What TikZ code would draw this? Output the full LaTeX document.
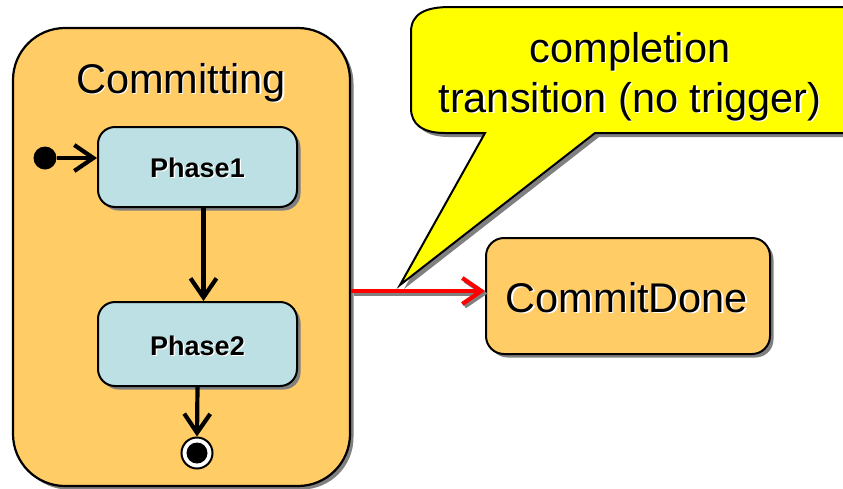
\documentclass[tikz,border=0pt]{standalone}
\usepackage{fontspec}
\setmainfont{Liberation Sans}
\usetikzlibrary{arrows.meta,shadows}
\definecolor{stateorange}{RGB}{255,204,102}
\definecolor{substate}{RGB}{188,224,227}
\definecolor{noteyellow}{RGB}{255,255,0}
\definecolor{transred}{RGB}{255,0,0}
% text with a thin white offset copy underneath
\newcommand{\glowtext}[1]{\leavevmode\rlap{\kern1.3pt\raisebox{-1.3pt}{\color{white}#1}}#1}

\begin{document}
\begin{tikzpicture}[x=1pt,y=-1pt,
  shade/.style={drop shadow={shadow xshift=3.5pt,shadow yshift=-3.5pt,fill=black!50,opacity=1}},
  bigstate/.style={draw=black,line width=2.2pt,fill=stateorange,rounded corners=52pt,
    minimum width=337pt,minimum height=458pt,inner sep=0pt,shade},
  substatebox/.style={draw=black,line width=2pt,fill=substate,rounded corners=17pt,
    minimum width=199pt,inner sep=0pt,shade},
  substatetext/.style={font=\fontsize{27}{30}\selectfont\bfseries,anchor=base,inner sep=0pt},
  leafstate/.style={draw=black,line width=2pt,fill=stateorange,rounded corners=18pt,
    minimum width=284pt,minimum height=116pt,inner sep=0pt,shade},
  bigtext/.style={font=\fontsize{41.5}{50}\selectfont,inner sep=0pt},
  flow/.style={line width=4.2pt,-{Straight Barb[length=19pt,width=26pt]}},
  noteshape/.style={draw=black,line width=2pt,fill=noteyellow,
    drop shadow={shadow xshift=4pt,shadow yshift=-4pt,fill=black!50,opacity=1}}]

\clip (0,0) rectangle (843,488);
\fill[white] (0,0) rectangle (843,488);

% composite state and its title
\node[bigstate] (committing) at (181.5,257) {};
\node[bigtext,anchor=base] (ctitle) at (181,93) {\glowtext{Committing}};

% inner states
\node[substatebox,minimum height=80pt] (p1) at (197.5,167) {};
\node[substatetext] (p1t) at (197.5,177.5) {\glowtext{Phase1}};
\node[substatebox,minimum height=84pt] (p2) at (197.5,344) {};
\node[substatetext] (p2t) at (197.5,355) {\glowtext{Phase2}};

% pseudo states
\node[circle,fill=black,minimum size=23pt,inner sep=0pt] (init) at (45,158) {};
\node[circle,draw=black,line width=2pt,fill=white,minimum size=31pt,inner sep=0pt] (fin) at (197,453) {};
\node[circle,fill=black,minimum size=21pt,inner sep=0pt] (finc) at (fin.center) {};

% transitions inside the composite state
\draw[flow] (init) -- (init -| p1.west);
\draw[flow] ([xshift=6pt]p1.south) -- ([xshift=6pt]p2.north);
\draw[flow] (p2.south) -- (fin.north);

% target state
\node[leafstate] (done) at (628,296) {};
\node[bigtext,anchor=base] (donet) at (627,312) {\glowtext{CommitDone}};

% callout note
\path[noteshape] (485,133) -- (400,285) -- (595,133) -- (850,133)
  .. controls (875,133) and (880,120) .. (880,100) -- (880,40)
  .. controls (880,15) and (870,7) .. (845,7) -- (450,7)
  .. controls (425,7) and (411,14) .. (411,32) -- (411,108)
  .. controls (411,124) and (422,133) .. (445,133) -- cycle;
\node[bigtext,align=center,anchor=base] (note) at (630,112)
  {\glowtext{completion}\\\glowtext{transition (no trigger)}};

% completion transition
\coordinate (tstart) at (committing.east |- 0,291);
\coordinate (tend) at (done.west |- 0,291);
\draw[flow,draw=black!50,transform canvas={shift={(2.5pt,-2.5pt)}}] (tstart) -- (tend);
\draw[flow,draw=transred] (tstart) -- (tend);
\end{tikzpicture}
\end{document}
